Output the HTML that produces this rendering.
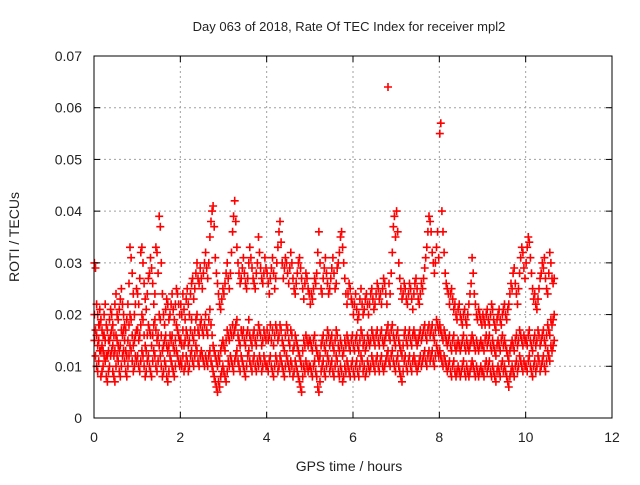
<!DOCTYPE html>
<html><head><meta charset="utf-8"><style>
body{margin:0;background:#fff}
svg text{font-family:"Liberation Sans",sans-serif;fill:#222}
</style></head><body>
<svg id="chart" width="640" height="480" xmlns="http://www.w3.org/2000/svg">
<text x="349" y="31" font-size="13" text-anchor="middle">Day 063 of 2018, Rate Of TEC Index for receiver mpl2</text>
<g id="grid"></g>
<g id="pts"></g>
<rect x="94" y="56" width="518" height="362" fill="none" stroke="#000" stroke-width="1"/>
<g id="ticks"></g>
<text x="349" y="471" font-size="14" text-anchor="middle">GPS time / hours</text>
<text x="19" y="237" font-size="14" text-anchor="middle" transform="rotate(-90 19 237)">ROTI / TECUs</text>
</svg>
<script>
const xTicks=[0,2,4,6,8,10,12];
const yTicks=[0,0.01,0.02,0.03,0.04,0.05,0.06,0.07];
const yTickLabels=["0","0.01","0.02","0.03","0.04","0.05","0.06","0.07"];
const timeStep=0.025;
const rotiHigh=[30,29,22,20,18,21,19,17,16,20,22,18,17,15,19,21,20,18,16,22,24,20,19,21,23,25,22,20,18,17,19,22,26,33,31,28,24,20,22,25,
24,22,27,32,33,30,26,23,21,24,27,28,31,29,26,22,24,33,32,28,39,37,30,24,20,18,21,23,22,19,20,22,24,21,19,22,25,24,22,20,
22,20,24,21,19,23,25,22,20,24,26,27,23,25,28,30,27,26,29,27,25,28,30,32,29,27,30,35,38,40,41,37,31,28,26,24,22,21,23,25,
24,26,28,30,27,25,28,32,36,39,42,38,33,30,28,26,27,29,31,28,26,25,27,30,33,31,29,27,26,25,28,30,35,32,29,27,26,28,31,29,
28,26,24,27,29,31,28,25,27,30,33,36,38,34,30,27,29,31,30,28,26,29,32,30,27,25,24,26,28,30,31,29,27,25,23,26,28,27,25,24,
22,24,23,25,27,26,28,32,36,30,25,24,27,29,31,28,26,24,25,27,29,31,28,25,26,29,30,32,35,36,33,30,27,24,22,24,26,25,23,22,
20,22,24,21,19,20,23,25,22,20,21,23,24,22,20,22,24,25,23,21,22,24,26,25,23,24,22,25,27,26,24,22,64,26,24,28,32,37,39,35,
40,36,30,27,25,23,24,26,25,23,22,24,26,25,23,21,24,26,27,25,23,22,24,26,25,27,29,31,33,36,39,38,36,32,30,28,30,33,36,31,
55,57,40,36,32,28,26,25,24,22,24,25,23,21,22,20,19,21,22,20,19,18,20,21,19,18,20,22,24,26,31,28,24,22,20,19,21,20,19,18,
20,19,18,20,21,19,18,20,22,21,19,18,17,19,20,21,19,18,20,21,22,20,19,21,22,24,26,25,28,29,26,24,22,25,28,31,33,32,29,27,
30,33,35,34,31,28,25,23,24,22,21,23,25,27,28,30,29,31,27,25,24,28,32,30,27,26,27];
const rotiLow=[15,12,10,9,11,13,8,9,10,12,11,8,7,9,10,12,13,9,8,7,10,12,11,9,8,10,12,13,11,9,8,10,12,14,13,11,9,10,12,11,
12,10,9,11,13,12,10,8,9,11,12,10,9,8,11,13,12,10,9,11,14,12,10,8,9,11,10,8,7,9,12,11,10,9,8,10,13,12,11,10,
11,10,12,9,10,12,11,9,10,12,13,11,10,12,14,13,11,10,12,13,12,11,10,12,11,10,12,13,11,10,9,8,7,6,5,7,6,8,9,10,
9,8,7,9,11,10,12,11,10,9,11,12,13,11,10,9,12,11,10,9,8,10,12,13,11,10,9,11,12,10,9,11,10,12,11,9,10,12,11,10,
10,9,11,12,10,9,8,10,12,11,9,10,12,11,10,9,8,10,12,11,10,9,11,10,8,9,11,10,9,8,7,6,5,8,10,9,11,10,9,10,
10,9,8,10,11,9,8,6,5,7,9,10,11,9,8,10,12,11,9,10,11,9,8,10,12,11,9,8,10,9,7,8,10,9,11,10,9,8,10,11,
9,8,10,11,9,8,10,12,11,9,10,8,9,11,10,9,10,12,11,10,9,11,12,10,9,11,12,10,9,10,11,12,13,11,10,12,13,11,10,9,
11,12,10,9,8,7,9,11,12,10,9,11,12,10,9,11,12,11,10,9,10,11,12,10,11,12,13,11,10,12,13,11,12,13,11,10,12,14,13,12,
13,12,11,10,12,11,10,9,10,11,9,8,10,11,9,8,9,10,9,8,9,10,11,9,8,10,9,8,9,10,11,10,9,8,10,9,8,9,10,9,
9,8,10,11,9,10,11,9,8,10,9,8,7,9,10,9,8,10,11,9,10,9,8,7,6,8,9,10,9,8,10,11,9,10,12,11,10,9,11,10,
10,9,11,12,10,9,8,10,11,9,10,12,11,9,10,11,12,10,9,11,13,12,11,14,13,14,15];
const rotiMid=[20,17,16,14,15,18,13,14,13,16,15,12,12,13,15,16,17,14,12,13,16,15,14,13,14,17,16,17,15,13,12,15,18,20,19,16,14,15,16,17,
17,15,16,18,20,19,16,14,13,16,18,17,16,14,16,18,19,17,15,16,20,19,16,13,14,15,16,14,13,14,16,15,16,14,13,15,18,17,16,15,
15,14,17,14,15,17,16,14,15,17,19,16,15,17,19,20,17,16,18,19,17,16,18,20,17,16,19,21,18,16,14,13,12,11,10,12,11,13,14,15,
14,13,15,17,16,15,17,16,18,16,17,18,19,16,15,14,17,16,17,15,14,16,17,19,16,15,14,16,17,15,14,16,18,17,16,14,15,17,16,15,
17,15,16,18,15,17,14,16,18,17,15,16,18,17,15,14,13,16,18,17,15,14,17,16,13,14,16,15,14,13,12,11,10,13,15,14,16,15,14,15,
15,14,13,15,16,14,13,12,11,12,14,15,16,14,13,15,17,16,14,15,16,14,13,15,17,16,14,13,15,14,12,13,15,14,16,15,14,13,15,16,
14,13,15,16,14,13,15,17,16,14,15,13,14,16,15,14,15,17,16,15,14,16,17,15,14,16,17,15,14,15,16,17,18,16,15,17,18,16,15,14,
16,17,15,14,13,12,14,16,17,15,14,16,17,15,14,16,17,16,15,14,15,16,17,15,16,17,18,16,15,17,18,16,17,18,16,15,17,19,18,17,
18,17,16,15,17,16,15,14,15,16,14,13,15,16,14,13,14,15,14,13,14,15,16,14,13,15,14,13,14,15,16,15,14,13,15,14,13,14,15,14,
14,13,15,16,14,15,16,14,13,15,14,13,12,14,15,14,13,15,16,14,15,14,13,12,11,13,14,15,14,13,15,16,14,15,17,16,15,14,16,15,
15,14,16,17,15,14,13,15,16,14,15,17,16,14,15,16,17,15,14,16,18,17,16,19,18,19,20];
const X0=94,X1=612,Y0=418,Y1=56,XMIN=0,XMAX=12,YMIN=0,YMAX=0.07;
const xs=v=>X0+(v-XMIN)/(XMAX-XMIN)*(X1-X0);
const ys=v=>Y0-(v-YMIN)/(YMAX-YMIN)*(Y0-Y1);
const NS="http://www.w3.org/2000/svg";
const grid=document.getElementById('grid'),ticks=document.getElementById('ticks'),pts=document.getElementById('pts');
function mk(tag,attrs,parent){const e=document.createElementNS(NS,tag);for(const k in attrs)e.setAttribute(k,attrs[k]);parent.appendChild(e);return e;}
xTicks.forEach((t,i)=>{
  const x=xs(t);
  if(i>0&&i<xTicks.length-1){const g=mk('line',{x1:x,x2:x,y1:Y0,y2:Y1,stroke:'#a0a0a0','stroke-dasharray':'2,3'},grid);
  
  }
  mk('line',{x1:x,x2:x,y1:Y0,y2:Y0-6,stroke:'#000'},ticks);
  mk('line',{x1:x,x2:x,y1:Y1,y2:Y1+6,stroke:'#000'},ticks);
  const l=mk('text',{x:x,y:Y0+24,'font-size':14,'text-anchor':'middle'},ticks);l.textContent=t;
  
  
});
yTicks.forEach((t,i)=>{
  const y=ys(t);
  if(i>0&&i<yTicks.length-1){const g=mk('line',{x1:X0,x2:X1,y1:y,y2:y,stroke:'#a0a0a0','stroke-dasharray':'2,3'},grid);
  
  }
  mk('line',{x1:X0,x2:X0+6,y1:y,y2:y,stroke:'#000'},ticks);
  mk('line',{x1:X1,x2:X1-6,y1:y,y2:y,stroke:'#000'},ticks);
  const l=mk('text',{x:X0-12,y:y+5,'font-size':14,'text-anchor':'end'},ticks);l.textContent=yTickLabels[i];
  
  
});
let d='';
[rotiHigh,rotiMid,rotiLow].forEach(series=>{
  series.forEach((v,i)=>{
    const x=xs(i*timeStep+0.01),y=ys(v/1000);
    d+=`M${(x-4).toFixed(1)} ${y.toFixed(1)}h8M${x.toFixed(1)} ${(y-4).toFixed(1)}v8`;
  });
});
const p=mk('path',{d:d,stroke:'#ff0000','stroke-width':1.6,fill:'none'},pts);


</script>
</body></html>
